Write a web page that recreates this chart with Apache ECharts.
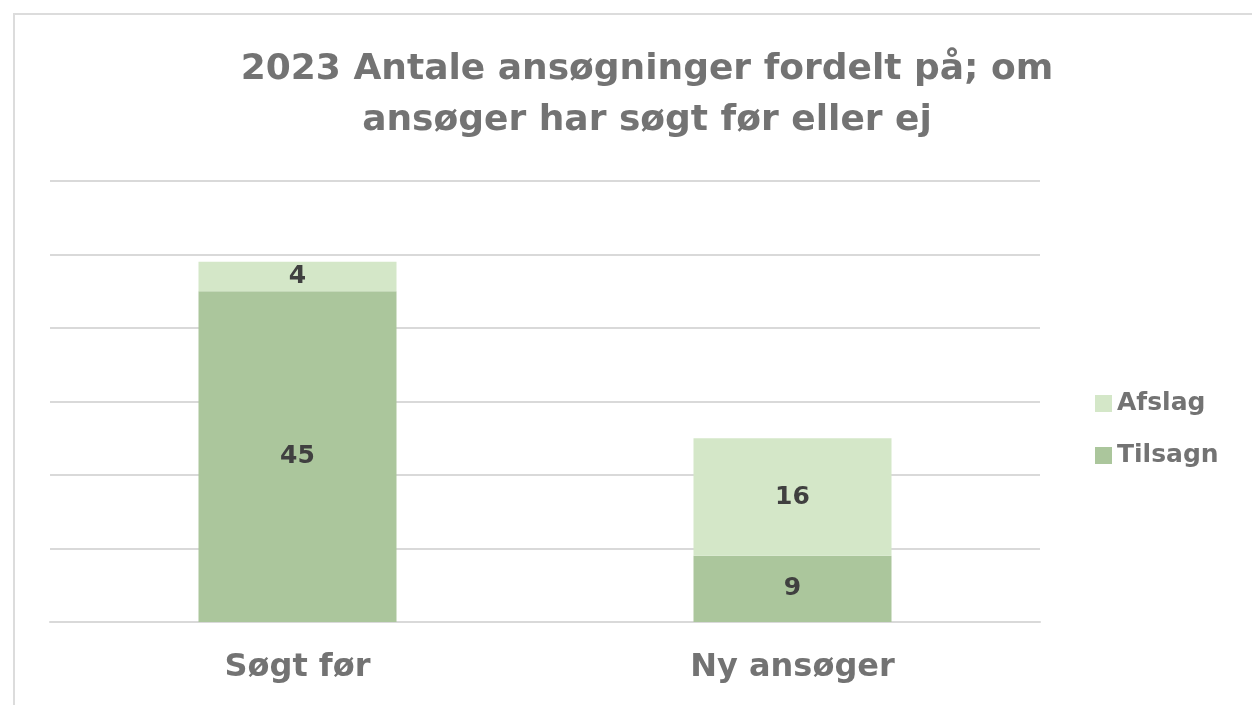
<!DOCTYPE html>
<html>
<head>
<meta charset="utf-8">
<script src="https://cdn.jsdelivr.net/npm/echarts@6/dist/echarts.min.js"></script>
<style>
  html, body { margin: 0; padding: 0; background: #fff; }
  #chart { width: 1252px; height: 705px; }
</style>
</head>
<body>
<div id="chart"></div>
<script>
const categories = ['Søgt før', 'Ny ansøger']
const tilsagn = [45, 9]
const afslag = [4, 16]

const chart = echarts.init(document.getElementById('chart'))

const font = 'DejaVu Sans'

const labelStyle = {
  show: true,
  position: 'inside',
  color: '#404040',
  fontSize: 25,
  fontWeight: 'bold',
  fontFamily: font,
}

let option = {
  animation: false,
  backgroundColor: '#fff',
  title: {
    text: '2023 Antale ansøgninger fordelt på; om\nansøger har søgt før eller ej',
    left: 642,
    textAlign: 'center',
    top: 39,
    textStyle: {
      color: '#737373',
      fontSize: 36,
      fontWeight: 'bold',
      fontFamily: font,
      lineHeight: 51,
    },
  },
  graphic: [
    {
      type: 'rect',
      shape: { x: 14, y: 14, width: 1400, height: 900 },
      style: { fill: 'none', stroke: '#dcdcdc', lineWidth: 2 },
    },
  ],
  legend: {
    orient: 'vertical',
    left: 1090,
    top: 386,
    icon: 'rect',
    itemWidth: 17,
    itemHeight: 17,
    itemGap: 27,
    data: ['Afslag', 'Tilsagn'],
    textStyle: {
      color: '#737373',
      fontSize: 25,
      fontWeight: 'bold',
      fontFamily: font,
    },
  },
  grid: {
    left: 50,
    right: 212,
    top: 181,
    bottom: 83,
    containLabel: false,
  },
  xAxis: {
    type: 'category',
    data: categories,
    axisLine: { lineStyle: { color: '#d9d9d9', width: 2 } },
    axisTick: { show: false },
    axisLabel: {
      color: '#737373',
      fontSize: 32,
      fontWeight: 'bold',
      fontFamily: font,
      margin: 30,
    },
  },
  yAxis: {
    type: 'value',
    min: 0,
    max: 60,
    interval: 10,
    axisLabel: { show: false },
    axisLine: { show: false },
    axisTick: { show: false },
    splitLine: { lineStyle: { color: '#d9d9d9', width: 2 } },
  },
  series: [
    {
      name: 'Tilsagn',
      type: 'bar',
      stack: 'total',
      barWidth: '40%',
      data: tilsagn,
      itemStyle: { color: '#abc69c' },
      label: labelStyle,
    },
    {
      name: 'Afslag',
      type: 'bar',
      stack: 'total',
      barWidth: '40%',
      data: afslag,
      itemStyle: { color: '#d4e7c8' },
      label: labelStyle,
    },
  ],
}

chart.setOption(option)
</script>
</body>
</html>
